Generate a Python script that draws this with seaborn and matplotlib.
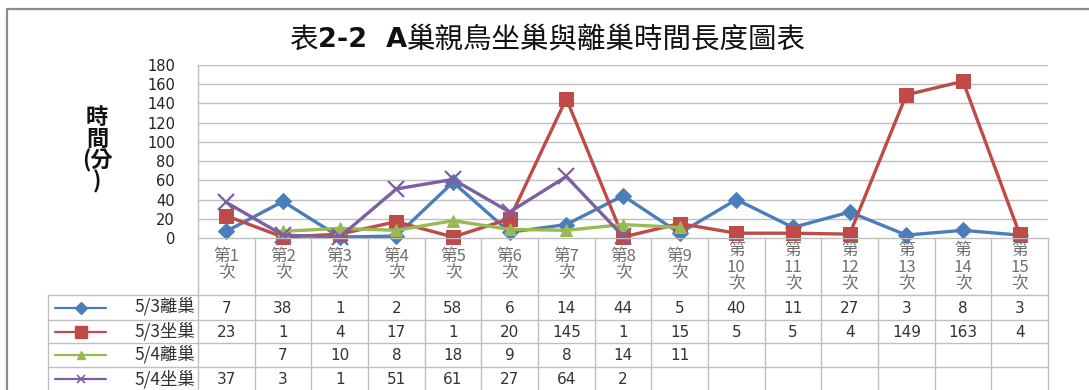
import numpy as np
import pandas as pd
import matplotlib
matplotlib.use("Agg")
import matplotlib.pyplot as plt
from matplotlib.lines import Line2D
import seaborn as sns

# ---------------- data ----------------
categories = ["第1次", "第2次", "第3次", "第4次", "第5次", "第6次", "第7次", "第8次",
              "第9次", "第10次", "第11次", "第12次", "第13次", "第14次", "第15次"]
series_names = ["5/3離巢", "5/3坐巢", "5/4離巢", "5/4坐巢"]
leave_0503 = [7, 38, 1, 2, 58, 6, 14, 44, 5, 40, 11, 27, 3, 8, 3]
sit_0503 = [23, 1, 4, 17, 1, 20, 145, 1, 15, 5, 5, 4, 149, 163, 4]
leave_0504 = [None, 7, 10, 8, 18, 9, 8, 14, 11, None, None, None, None, None, None]
sit_0504 = [37, 3, 1, 51, 61, 27, 64, 2, None, None, None, None, None, None, None]
y_ticks = [0, 20, 40, 60, 80, 100, 120, 140, 160, 180]
title_a = "表"
title_b = "2-2  A"
title_c = "巢親鳥坐巢與離巢時間長度圖表"
y_label = "時\n間\n(分\n)"

series_values = [leave_0503, sit_0503, leave_0504, sit_0504]
colors = ["#4A7EBB", "#BE4B48", "#98B954", "#7D60A0"]
markers = ["D", "s", "^", "x"]
msizes = [8.5, 10, 9, 11]

# ---------------- style ----------------
sns.set_theme(style="white")
plt.rcParams["font.family"] = ["Noto Sans CJK TC", "DejaVu Sans"]

W, H = 1089, 390
fig = plt.figure(figsize=(W / 100, H / 100), dpi=100)
fig.patch.set_facecolor("white")

def fx(px):
    return px / W

def fy(py):
    return 1 - py / H

plot_l, plot_r, plot_t, plot_b = 198, 1048, 65, 238
ax = fig.add_axes([fx(plot_l), fy(plot_b), fx(plot_r - plot_l), (plot_b - plot_t) / H])

n = len(categories)
idx = np.arange(n)
grid_c = "#BFBFBF"

for name, vals, c, m, ms in zip(series_names, series_values, colors, markers, msizes):
    df = pd.DataFrame({"idx": idx, "val": pd.array(vals, dtype="Float64").astype(float)})
    df = df.dropna()
    kw = dict(marker=m, markersize=ms, color=c, linewidth=2.4)
    if m == "x":
        kw.update(markeredgewidth=1.6, markeredgecolor=c)
    else:
        kw.update(markeredgecolor=c, markerfacecolor=c)
    sns.lineplot(data=df, x="idx", y="val", ax=ax, legend=False, zorder=3, clip_on=False, **kw)

ax.set_xlim(-0.5, n - 0.5)
ax.set_ylim(0, 180)
ax.set_yticks(y_ticks)
ax.set_yticklabels([str(t) for t in y_ticks], family="DejaVu Sans", fontsize=10.5, color="#222222")
ax.set_xticks([])
ax.set_xlabel("")
ax.set_ylabel("")
ax.tick_params(axis="y", length=0, pad=16.5)
ax.grid(axis="y", color=grid_c, linewidth=1.0)
ax.set_axisbelow(True)
for s in ["top", "right", "bottom"]:
    ax.spines[s].set_visible(False)
ax.spines["left"].set_color(grid_c)
ax.spines["left"].set_linewidth(1.0)

# ---------------- data table ----------------
colw = (plot_r - plot_l) / n
leg_l = 48
tab_top, tab_bot = 238, 390
tax = fig.add_axes([fx(leg_l), 0, fx(plot_r - leg_l), (tab_bot - tab_top) / H])
tax.set_xlim(-0.5 - (plot_l - leg_l) / colw, n - 0.5)
tax.set_ylim(tab_bot, tab_top)
tax.axis("off")

row_edges = [238, 295, 320, 343, 367, 391]
lc = "#BFBFBF"
for k in range(n + 1):
    tax.plot([k - 0.5, k - 0.5], [tab_top, tab_bot], color=lc, lw=1.0, clip_on=False)
tax.plot([-0.5, n - 0.5], [tab_top, tab_top], color=lc, lw=1.0)
x_leg_left = -0.5 - (plot_l - leg_l) / colw
for ye in row_edges[1:]:
    tax.plot([x_leg_left, n - 0.5], [ye, ye], color=lc, lw=1.0, clip_on=False)
tax.plot([x_leg_left, x_leg_left], [row_edges[1], tab_bot], color=lc, lw=1.0, clip_on=False)

for k, cat in enumerate(categories):
    num = cat[1:-1]
    if len(num) == 1:
        lab = "第" + num + "\n次"
        yy = 265
    else:
        lab = "第\n" + num + "\n次"
        yy = 267
    tax.text(k, yy, lab, ha="center", va="center", fontsize=12, color="#707070",
             linespacing=0.95)

for r, (name, vals, c, m) in enumerate(zip(series_names, series_values, colors, markers)):
    yc = (row_edges[r + 1] + row_edges[r + 2]) / 2
    for k, v in enumerate(vals):
        if v is not None:
            tax.text(k, yc + 0.5, str(v), ha="center", va="center", fontsize=11,
                     family="DejaVu Sans", color="#333333")
    x0 = x_leg_left + 7 / colw
    x1 = x_leg_left + 58 / colw
    tax.plot([x0, x1], [yc, yc], color=c, lw=1.6)
    mk = dict(marker=m, color=c, markersize=6 if m != "s" else 8)
    if m == "x":
        mk.update(markeredgewidth=1.2)
    tax.plot([(x0 + x1) / 2], [yc], linestyle="none", **mk)
    tax.text(-0.5 - 3 / colw, yc, name, ha="right", va="center", fontsize=12.5,
             color="#333333")

# ---------------- titles ----------------
fig.canvas.draw()
rend = fig.canvas.get_renderer()
parts = [(title_a, dict(fontsize=20.5)),
         (title_b, dict(fontsize=19.5, fontweight="bold", family="DejaVu Sans")),
         (title_c, dict(fontsize=20.5))]
texts = []
xcur = 0.0
for s, kw in parts:
    t = fig.text(xcur, fy(40), s, ha="left", va="center", color="#111111", **kw)
    w = t.get_window_extent(rend).width
    texts.append((t, w))
    xcur += w / W
total = sum(w for _, w in texts)
start = 548 - total / 2
for t, w in texts:
    t.set_x(start / W)
    start += w

fig.text(fx(97), fy(150), y_label, ha="center", va="center", fontsize=16,
         fontweight="bold", color="#111111", linespacing=0.9)

fig.add_artist(Line2D([fx(7), fx(7)], [fy(9), fy(H)], color="#8C8C8C", lw=1.6))
fig.add_artist(Line2D([fx(7), fx(W)], [fy(9), fy(9)], color="#8C8C8C", lw=1.6))

fig.savefig("out.png", dpi=100, facecolor="white")
